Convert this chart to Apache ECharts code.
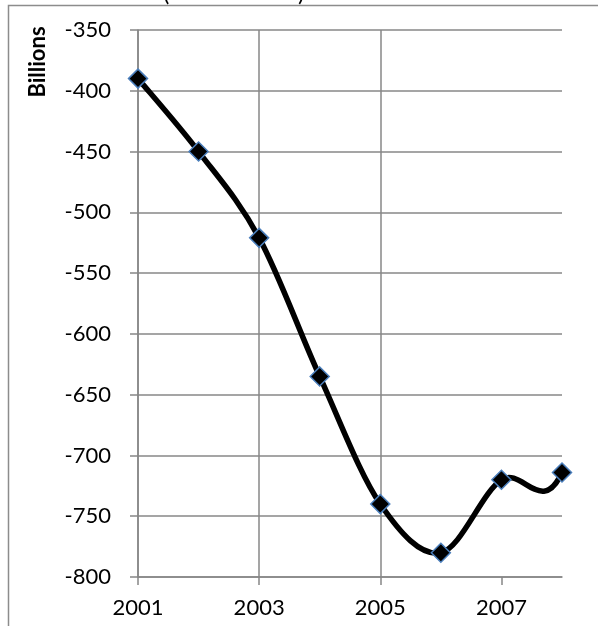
<!DOCTYPE html>
<html>
<head>
<meta charset="utf-8">
<script src="https://cdn.jsdelivr.net/npm/echarts@6/dist/echarts.min.js"></script>
<style>
  html, body { margin: 0; padding: 0; background: #fff; }
  #chart { width: 598px; height: 626px; }
</style>
</head>
<body>
<div id="chart"></div>
<script>
// Balance in billions, one value per year (last point lies past the axis and is clipped)
const years = [2001, 2002, 2003, 2004, 2005, 2006, 2007, 2008, 2009];
const values = [-390, -450, -521, -635, -740, -780, -720, -714, -500];
const xTickYears = [2001, 2003, 2005, 2007];
const yAxisName = 'Billions';

const X_MIN = 2001, X_MAX = 2008;

const chart = echarts.init(document.getElementById('chart'), null, { renderer: 'canvas' });

const gridColor = '#878787';
const font = 'Lato, "Open Sans", sans-serif';

// Excel-style spline: cubic Bezier between neighbours, Catmull-Rom tangents
function renderSegment(params, api) {
  const i = params.dataIndex;
  if (i >= years.length - 1) return null;
  const pt = k => api.coord([years[Math.max(0, Math.min(years.length - 1, k))],
                             values[Math.max(0, Math.min(values.length - 1, k))]]);
  const p0 = pt(i - 1), p1 = pt(i), p2 = pt(i + 1), p3 = pt(i + 2);
  const t = 1 / 6;
  return {
    type: 'bezierCurve',
    shape: {
      x1: p1[0], y1: p1[1],
      cpx1: p1[0] + (p2[0] - p0[0]) * t, cpy1: p1[1] + (p2[1] - p0[1]) * t,
      cpx2: p2[0] - (p3[0] - p1[0]) * t, cpy2: p2[1] - (p3[1] - p1[1]) * t,
      x2: p2[0], y2: p2[1]
    },
    style: { fill: null, stroke: '#000', lineWidth: 5.5, lineCap: 'round', lineJoin: 'round' }
  };
}

const option = {
  animation: false,
  grid: { left: 138, top: 30, right: 36, bottom: 49, containLabel: false },
  xAxis: {
    type: 'value',
    min: X_MIN,
    max: X_MAX,
    axisLine: { show: true, lineStyle: { color: gridColor, width: 1.5 } },
    axisTick: { show: true, length: 8, customValues: xTickYears, lineStyle: { color: gridColor, width: 1.5 } },
    axisLabel: { customValues: xTickYears, margin: 20, color: '#000', fontFamily: font, fontSize: 22,
                 formatter: v => String(v) },
    splitLine: { show: true, showMaxLine: false, lineStyle: { color: gridColor, width: 1.5 } }
  },
  yAxis: {
    type: 'value',
    min: -800,
    max: -350,
    interval: 50,
    axisLine: { show: true, lineStyle: { color: gridColor, width: 1.5 } },
    axisTick: { show: true, length: 8, lineStyle: { color: gridColor, width: 1.5 } },
    axisLabel: { margin: 27, color: '#000', fontFamily: font, fontSize: 22 },
    splitLine: { show: true, lineStyle: { color: gridColor, width: 1.5 } }
  },
  graphic: [
    // outer chart border (cropped on right and bottom)
    { type: 'rect', shape: { x: 8.5, y: 5.5, width: 800, height: 800 },
      style: { fill: 'none', stroke: '#8c8c8c', lineWidth: 1.5 }, z: -10 },
    { type: 'text', x: 38, y: 62, rotation: Math.PI / 2,
      style: { text: yAxisName, font: 'bold 22px ' + font, fill: '#000', align: 'center', verticalAlign: 'middle' } },
    // bottom of the cut-off title
    { type: 'text', x: 163, y: 5,
      style: { text: '(', font: '24px ' + font, fill: '#000', verticalAlign: 'bottom' } },
    { type: 'text', x: 298, y: 5,
      style: { text: ')', font: '24px ' + font, fill: '#000', verticalAlign: 'bottom' } }
  ],
  series: [
    {
      type: 'custom',
      clip: true,
      data: years.map((y, i) => [y, values[i]]),
      renderItem: renderSegment,
      z: 5
    },
    {
      type: 'scatter',
      clip: true,
      data: years.map((y, i) => [y, values[i]]).filter(d => d[0] <= X_MAX),
      symbol: 'diamond',
      symbolSize: 19,
      itemStyle: { color: '#000', borderColor: '#4a7ebb', borderWidth: 1.5, opacity: 1 },
      z: 6
    }
  ]
};

chart.setOption(option);
</script>
</body>
</html>
